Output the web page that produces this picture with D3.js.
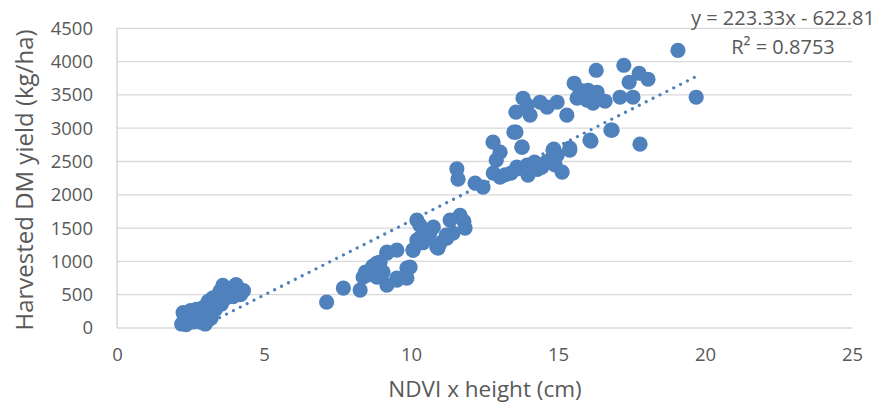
<!DOCTYPE html>
<html>
<head>
<meta charset="utf-8">
<script src="https://cdn.jsdelivr.net/npm/d3@7"></script>
<style>
  body { margin: 0; background: #fff; }
  svg text { font-family: "Open Sans", "Liberation Sans", sans-serif; fill: #595959; }
</style>
</head>
<body>
<svg id="chart" width="883" height="411"></svg>
<script>
// NDVI x height (cm) vs harvested DM yield (kg/ha)
var ndviHeight = [
  2.2, 2.25, 2.3, 2.35, 2.4, 2.45, 2.5, 2.6, 2.6, 2.7, 2.75, 2.8, 2.85, 2.9, 2.95, 3.0, 3.0, 3.05,
  3.1, 3.1, 3.15, 3.2, 3.2, 3.25, 3.3, 3.35, 3.4, 3.45, 3.5, 3.55, 3.6, 3.65, 3.7, 3.75, 3.8, 3.9,
  3.95, 4.05, 4.1, 4.2, 4.3,
  7.13, 7.7, 8.27, 8.37, 8.45, 8.5, 8.7, 8.84, 8.84, 8.95, 9.05, 9.18, 9.18, 9.18, 9.52, 9.52,
  9.52, 9.86, 9.86, 9.97, 10.07, 10.07, 10.2, 10.2, 10.3, 10.3, 10.4, 10.54, 10.65, 10.76, 10.88,
  10.92, 10.99, 11.2, 11.22, 11.33, 11.43, 11.67, 11.8, 11.84,
  11.56, 11.6, 12.18, 12.45, 12.79, 12.8, 12.9, 13.03, 13.03, 13.2, 13.4, 13.6, 13.6, 13.77, 13.78,
  13.5, 13.95, 13.98, 14.0, 14.2, 14.3, 14.45, 14.6, 14.73, 14.83, 14.86, 14.9, 14.97, 15.14,
  15.4, 15.4, 16.09, 16.12, 16.8, 16.84, 17.79,
  13.57, 13.57, 13.81, 13.95, 14.05, 14.39, 14.63, 14.97, 15.3, 15.55, 15.65, 15.75, 15.99,
  16.02, 16.19, 16.3, 16.33, 16.6, 17.11, 17.24, 17.42, 17.55, 17.76, 18.06, 19.08, 19.7
];
var dmYield = [
  60, 230, 150, 50, 120, 200, 260, 90, 180, 280, 140, 220, 100, 300, 170, 60, 250, 350,
  120, 400, 200, 320, 150, 450, 380, 280, 480, 420, 550, 360, 640, 500, 450, 580, 520, 600,
  470, 650, 540, 500, 560,
  390, 600, 570, 765, 840, 795, 930, 975, 765, 990, 840, 1125, 645, 1140, 1170, 720,
  750, 750, 900, 915, 1170, 1170, 1620, 1320, 1545, 1350, 1280, 1365, 1440, 1515, 1215,
  1200, 1275, 1395, 1350, 1620, 1425, 1690, 1600, 1500,
  2390, 2235, 2175, 2115, 2790, 2325, 2520, 2640, 2265, 2300, 2325, 2415, 2390, 2715, 2715,
  2940, 2445, 2295, 2330, 2490, 2380, 2415, 2490, 2520, 2670, 2685, 2450, 2595, 2340,
  2670, 2700, 2820, 2805, 2970, 2970, 2760,
  3240, 2940, 3450, 3345, 3195, 3390, 3315, 3390, 3195, 3675, 3450, 3570, 3420,
  3570, 3375, 3870, 3540, 3405, 3465, 3945, 3690, 3465, 3825, 3735, 4170, 3465
];
var xTicks = [0, 5, 10, 15, 20, 25];
var yTicks = [0, 500, 1000, 1500, 2000, 2500, 3000, 3500, 4000, 4500];
var slope = 223.33, intercept = -622.81, rSquared = "0.8753";

var blue = "#4f81bd";
var svg = d3.select("#chart");

var x = d3.scaleLinear().domain([0, 25]).range([117, 852]);
var y = d3.scaleLinear().domain([0, 4500]).range([328, 28.3]);

// horizontal gridlines
svg.append("g")
  .selectAll("line")
  .data(yTicks)
  .join("line")
    .attr("x1", x(0)).attr("x2", x(25))
    .attr("y1", function(d) { return y(d); })
    .attr("y2", function(d) { return y(d); })
    .attr("stroke", "#d9d9d9")
    .attr("stroke-width", 1.3);

// vertical axis line
svg.append("line")
  .attr("x1", x(0)).attr("x2", x(0))
  .attr("y1", y(0)).attr("y2", y(4500))
  .attr("stroke", "#d0d0d0")
  .attr("stroke-width", 1.3);

var yAxis = d3.axisLeft(y).tickValues(yTicks).tickFormat(d3.format("d")).tickSize(0).tickPadding(24);
var gy = svg.append("g").attr("transform", "translate(" + x(0) + ",0)").call(yAxis);
gy.select(".domain").remove();
gy.selectAll("text").style("font-size", "18.5px").attr("fill", "#595959");

var xAxis = d3.axisBottom(x).tickValues(xTicks).tickSize(0).tickPadding(20);
var gx = svg.append("g").attr("transform", "translate(0," + y(0) + ")").call(xAxis);
gx.select(".domain").remove();
gx.selectAll("text").style("font-size", "18.5px").attr("fill", "#595959");

// points
var pts = ndviHeight.map(function(v, i) { return [v, dmYield[i]]; });
svg.append("g")
  .selectAll("circle")
  .data(pts)
  .join("circle")
    .attr("cx", function(d) { return x(d[0]); })
    .attr("cy", function(d) { return y(d[1]); })
    .attr("r", 7.6)
    .attr("fill", blue);

// linear trendline, from where it enters the plot to the last point
var x0 = -intercept / slope, x1 = d3.max(ndviHeight);
svg.append("line")
  .attr("x1", x(x0)).attr("y1", y(slope * x0 + intercept))
  .attr("x2", x(x1)).attr("y2", y(slope * x1 + intercept))
  .attr("stroke", blue)
  .attr("stroke-width", 3.2)
  .attr("stroke-linecap", "round")
  .attr("stroke-dasharray", "0.01 7.7");

// equation label
svg.append("text")
  .attr("x", 783).attr("y", 25)
  .attr("text-anchor", "middle")
  .style("font-size", "20px")
  .text("y = 223.33x - 622.81");
svg.append("text")
  .attr("x", 783).attr("y", 54)
  .attr("text-anchor", "middle")
  .style("font-size", "20px")
  .text("R² = " + rSquared);

// axis titles
svg.append("text")
  .attr("x", 485).attr("y", 397)
  .attr("text-anchor", "middle")
  .style("font-size", "22.5px")
  .text("NDVI x height (cm)");
svg.append("text")
  .attr("transform", "translate(33," + 180 + ") rotate(-90)")
  .attr("text-anchor", "middle")
  .style("font-size", "24px")
  .text("Harvested DM yield (kg/ha)");
</script>
</body>
</html>
